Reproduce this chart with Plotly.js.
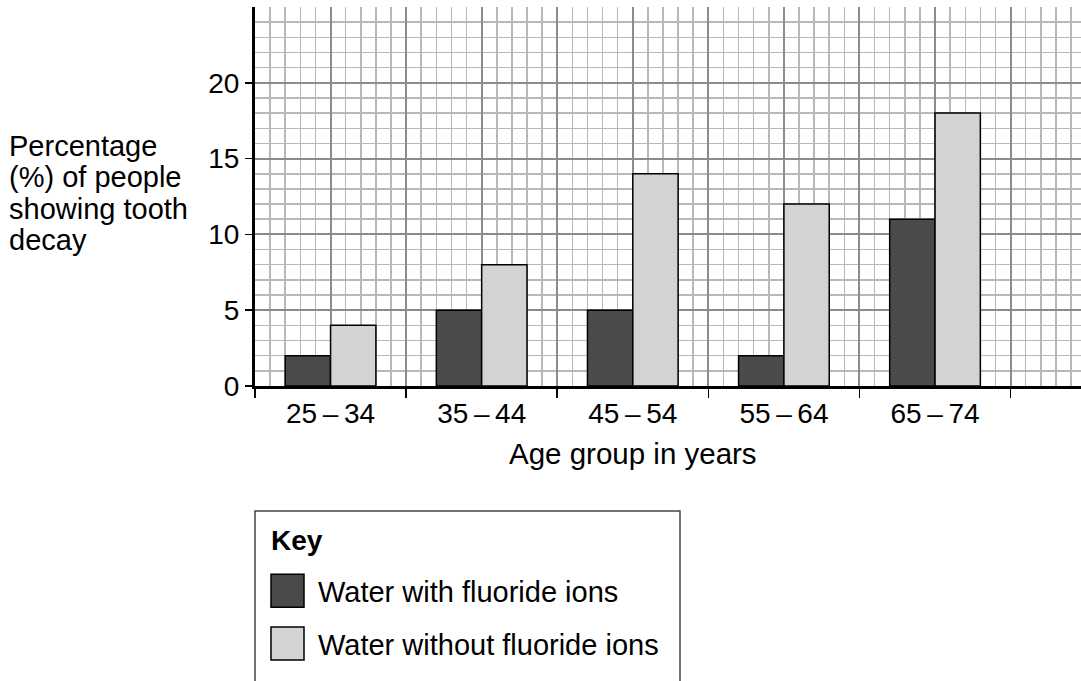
<!DOCTYPE html>
<html>
<head>
<meta charset="utf-8">
<script src="https://cdn.plot.ly/plotly-3.0.1.min.js"></script>
<style>
html,body{margin:0;padding:0;background:#fff;}
#chart{width:1081px;height:681px;}
</style>
</head>
<body>
<div id="chart"></div>
<script>
// ---- data ----
const ageGroups = ['25\u2009\u2013\u200934', '35\u2009\u2013\u200944', '45\u2009\u2013\u200954', '55\u2009\u2013\u200964', '65\u2009\u2013\u200974'];
const withFluoride = [2, 5, 5, 2, 11];
const withoutFluoride = [4, 8, 14, 12, 18];
const yTickVals = [0, 5, 10, 15, 20];
const seriesNames = ['Water with fluoride ions', 'Water without fluoride ions'];
const yTitleLines = ['Percentage', '(%) of people', 'showing tooth', 'decay'];
const xTitle = 'Age group in years';
const keyTitle = 'Key';

// ---- layout helpers (pixel -> paper) ----
const W = 1081, H = 681, L = 255, R = 0, T = 7, B = 295;
const plotW = W - L - R, plotH = H - T - B;
const px2x = p => (p - L) / plotW;
const py2y = p => (H - B - p) / plotH;

const FONT = '"Liberation Sans", Arial, Helvetica, sans-serif';
const darkFill = '#4a4a4a', lightFill = '#d3d3d3';
const majorGrid = '#8c8c8c', minorGrid = '#b8b8b8';

const data = [
  {
    type: 'bar', x: ageGroups, y: withFluoride, name: seriesNames[0],
    legendgroup: 'a', xaxis: 'x', yaxis: 'y',
    marker: {color: darkFill, line: {color: '#000', width: 1.5}},
    hoverinfo: 'skip'
  },
  {
    type: 'bar', x: ageGroups, y: withoutFluoride, name: seriesNames[1],
    legendgroup: 'b', xaxis: 'x', yaxis: 'y',
    marker: {color: lightFill, line: {color: '#000', width: 1.5}},
    hoverinfo: 'skip'
  },
  // empty helper trace so that the overlaid grid axis is created
  {
    type: 'scatter', x: [], y: [], xaxis: 'x2', yaxis: 'y',
    mode: 'markers', showlegend: false, hoverinfo: 'skip'
  }
];

const annotations = yTitleLines.map((t, i) => ({
  text: t, xref: 'paper', yref: 'paper',
  x: px2x(7), xanchor: 'left',
  y: py2y([146, 177, 209, 240][i]), yanchor: 'middle',
  showarrow: false, font: {size: 29, color: '#000', family: FONT}
}));
annotations.push({
  text: xTitle, xref: 'x', yref: 'paper', x: 2, xanchor: 'center',
  y: py2y(453), yanchor: 'middle', showarrow: false,
  font: {size: 29.5, color: '#000', family: FONT}
});

const layout = {
  width: W, height: H,
  margin: {l: L, r: R, t: T, b: B, pad: 0},
  paper_bgcolor: '#fff', plot_bgcolor: '#fff',
  font: {family: FONT, color: '#000', size: 28},
  barmode: 'group', bargap: 0.4, bargroupgap: 0,
  showlegend: true,
  xaxis: {
    type: 'category', categoryorder: 'array', categoryarray: ageGroups,
    range: [-0.5, 4.966], tickson: 'boundaries',
    ticks: 'outside', ticklen: 9, tickwidth: 1.5, tickcolor: '#000',
    showgrid: false, zeroline: false,
    showline: true, linecolor: '#000', linewidth: 3,
    tickfont: {size: 28, color: '#000'}
  },
  xaxis2: {
    overlaying: 'x', anchor: 'y', side: 'bottom', type: 'linear',
    range: [-0.5, 4.966], autorange: false, tickmode: 'linear', tick0: -0.5, dtick: 0.5,
    showgrid: true, gridcolor: majorGrid, gridwidth: 2,
    minor: {tickmode: 'linear', tick0: -0.5, dtick: 0.1, showgrid: true, gridcolor: minorGrid, gridwidth: 1.5, ticks: ''},
    showticklabels: false, ticks: '', showline: false, zeroline: false
  },
  yaxis: {
    range: [0, 25], tickmode: 'array', tickvals: yTickVals,
    ticks: 'outside', ticklen: 7, tickwidth: 1.5, tickcolor: '#000',
    showline: true, linecolor: '#000', linewidth: 3,
    showgrid: true, gridcolor: majorGrid, gridwidth: 2,
    minor: {tickmode: 'linear', tick0: 0, dtick: 1, showgrid: true, gridcolor: minorGrid, gridwidth: 1.5, ticks: ''},
    zeroline: false,
    tickfont: {size: 28, color: '#000'}
  },
  legend: {
    x: px2x(258), xanchor: 'left', y: py2y(529), yanchor: 'top',
    bgcolor: 'rgba(0,0,0,0)', borderwidth: 0,
    font: {size: 29, color: '#000', family: FONT},
    title: {text: '<b>' + keyTitle + '</b>', font: {size: 28, color: '#000', family: FONT}},
    traceorder: 'grouped', tracegroupgap: 12, itemwidth: 50
  },
  shapes: [{
    type: 'rect', xref: 'paper', yref: 'paper',
    x0: px2x(255), x1: px2x(680), y0: py2y(511), y1: py2y(720),
    line: {color: '#444', width: 1.5}, fillcolor: 'rgba(0,0,0,0)', layer: 'below'
  }],
  annotations: annotations
};

Plotly.newPlot('chart', data, layout, {staticPlot: true, displayModeBar: false}).then(gd => {
  gd.querySelectorAll('.legend [clip-path]').forEach(e => e.removeAttribute('clip-path'));
  gd.querySelectorAll('.legend .traces').forEach(tr => {
    const txt = tr.querySelector('text.legendtext');
    const tx = parseFloat(txt && txt.getAttribute('x')) || 60;
    tr.querySelectorAll('.legendpoints path').forEach(p => {
      p.setAttribute('d', 'M16.5,16.5H-16.5V-16.5H16.5Z');
      p.setAttribute('transform', 'translate(' + (tx - 30.5) + ',0)');
    });
  });
  gd.querySelectorAll('.legend text.legendtitletext').forEach(t => {
    t.setAttribute('transform', 'translate(11,-15)');
  });
});
</script>
</body>
</html>
